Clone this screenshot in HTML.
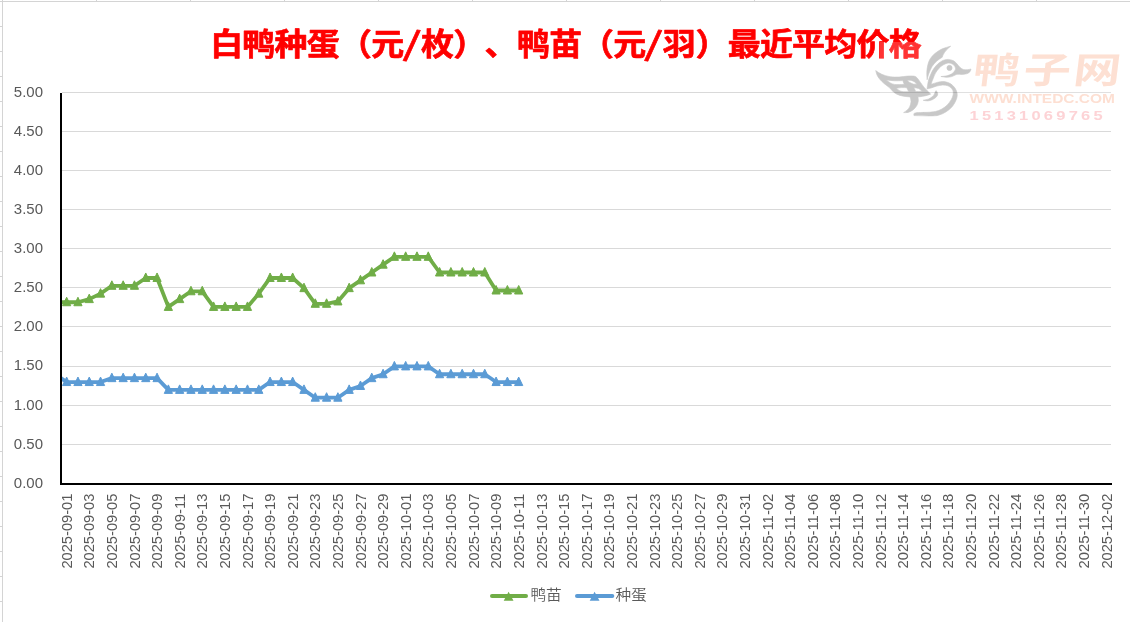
<!DOCTYPE html>
<html lang="zh-CN">
<head>
<meta charset="utf-8">
<title>白鸭种蛋（元/枚）、鸭苗（元/羽）最近平均价格</title>
<style>
html,body{margin:0;padding:0;background:#fff;}
body{width:1130px;height:622px;overflow:hidden;font-family:"Liberation Sans","Noto Sans CJK SC",sans-serif;}
svg{display:block;}
.ax{font-family:"Liberation Sans","Noto Sans CJK SC",sans-serif;font-size:14px;fill:#595959;}
.xl{font-family:"Liberation Sans","Noto Sans CJK SC",sans-serif;font-size:14.8px;fill:#595959;}
.lg{font-family:"Liberation Sans","Noto Sans CJK SC",sans-serif;font-size:14.6px;font-weight:350;fill:#595959;}
.ttl{font-family:"Liberation Sans","Noto Sans CJK SC",sans-serif;font-size:32px;font-weight:bold;fill:#ff0000;stroke:#ff0000;stroke-width:0.7px;stroke-linejoin:round;}
.sl{font-family:"Noto Sans CJK SC","Liberation Sans",sans-serif;font-size:34px;}
</style>
</head>
<body>
<svg width="1130" height="622" viewBox="0 0 1130 622">
<rect x="0" y="0" width="1130" height="622" fill="#ffffff"/>
<g fill="#d4d4d4" shape-rendering="crispEdges">
<rect x="0" y="1" width="1130" height="1"/>
<rect x="2" y="0" width="1" height="622"/>
<rect x="96" y="0" width="1" height="1"/>
<rect x="190" y="0" width="1" height="1"/>
<rect x="284" y="0" width="1" height="1"/>
<rect x="378" y="0" width="1" height="1"/>
<rect x="472" y="0" width="1" height="1"/>
<rect x="566" y="0" width="1" height="1"/>
<rect x="660" y="0" width="1" height="1"/>
<rect x="754" y="0" width="1" height="1"/>
<rect x="848" y="0" width="1" height="1"/>
<rect x="942" y="0" width="1" height="1"/>
<rect x="1036" y="0" width="1" height="1"/>
<rect x="0" y="26" width="2" height="1"/>
<rect x="0" y="51" width="2" height="1"/>
<rect x="0" y="76" width="2" height="1"/>
<rect x="0" y="101" width="2" height="1"/>
<rect x="0" y="126" width="2" height="1"/>
<rect x="0" y="151" width="2" height="1"/>
<rect x="0" y="176" width="2" height="1"/>
<rect x="0" y="201" width="2" height="1"/>
<rect x="0" y="226" width="2" height="1"/>
<rect x="0" y="251" width="2" height="1"/>
<rect x="0" y="276" width="2" height="1"/>
<rect x="0" y="301" width="2" height="1"/>
<rect x="0" y="326" width="2" height="1"/>
<rect x="0" y="351" width="2" height="1"/>
<rect x="0" y="376" width="2" height="1"/>
<rect x="0" y="401" width="2" height="1"/>
<rect x="0" y="426" width="2" height="1"/>
<rect x="0" y="451" width="2" height="1"/>
<rect x="0" y="476" width="2" height="1"/>
<rect x="0" y="501" width="2" height="1"/>
<rect x="0" y="526" width="2" height="1"/>
<rect x="0" y="551" width="2" height="1"/>
<rect x="0" y="576" width="2" height="1"/>
<rect x="0" y="601" width="2" height="1"/>
</g>
<g fill="#d9d9d9" shape-rendering="crispEdges">
<rect x="62" y="92" width="1049" height="1"/>
<rect x="62" y="131" width="1049" height="1"/>
<rect x="62" y="170" width="1049" height="1"/>
<rect x="62" y="209" width="1049" height="1"/>
<rect x="62" y="248" width="1049" height="1"/>
<rect x="62" y="287" width="1049" height="1"/>
<rect x="62" y="326" width="1049" height="1"/>
<rect x="62" y="366" width="1049" height="1"/>
<rect x="62" y="405" width="1049" height="1"/>
<rect x="62" y="444" width="1049" height="1"/>
</g>
<g fill="#000000" shape-rendering="crispEdges">
<rect x="60" y="93" width="2" height="392"/>
<rect x="60" y="483" width="1052" height="2"/>
</g>
<g class="ax" text-anchor="end">
<text x="43" y="96.9" textLength="29.2" lengthAdjust="spacingAndGlyphs">5.00</text>
<text x="43" y="135.9" textLength="29.2" lengthAdjust="spacingAndGlyphs">4.50</text>
<text x="43" y="174.9" textLength="29.2" lengthAdjust="spacingAndGlyphs">4.00</text>
<text x="43" y="213.9" textLength="29.2" lengthAdjust="spacingAndGlyphs">3.50</text>
<text x="43" y="252.9" textLength="29.2" lengthAdjust="spacingAndGlyphs">3.00</text>
<text x="43" y="291.9" textLength="29.2" lengthAdjust="spacingAndGlyphs">2.50</text>
<text x="43" y="330.9" textLength="29.2" lengthAdjust="spacingAndGlyphs">2.00</text>
<text x="43" y="369.9" textLength="29.2" lengthAdjust="spacingAndGlyphs">1.50</text>
<text x="43" y="409.9" textLength="29.2" lengthAdjust="spacingAndGlyphs">1.00</text>
<text x="43" y="448.9" textLength="29.2" lengthAdjust="spacingAndGlyphs">0.50</text>
<text x="43" y="487.9" textLength="29.2" lengthAdjust="spacingAndGlyphs">0.00</text>
</g>
<g class="xl" text-anchor="end">
<text transform="translate(71.85,493.6) rotate(-90)" x="0" y="0" textLength="75" lengthAdjust="spacingAndGlyphs">2025-09-01</text>
<text transform="translate(94.45,493.6) rotate(-90)" x="0" y="0" textLength="75" lengthAdjust="spacingAndGlyphs">2025-09-03</text>
<text transform="translate(117.05,493.6) rotate(-90)" x="0" y="0" textLength="75" lengthAdjust="spacingAndGlyphs">2025-09-05</text>
<text transform="translate(139.66,493.6) rotate(-90)" x="0" y="0" textLength="75" lengthAdjust="spacingAndGlyphs">2025-09-07</text>
<text transform="translate(162.26,493.6) rotate(-90)" x="0" y="0" textLength="75" lengthAdjust="spacingAndGlyphs">2025-09-09</text>
<text transform="translate(184.86,493.6) rotate(-90)" x="0" y="0" textLength="75" lengthAdjust="spacingAndGlyphs">2025-09-11</text>
<text transform="translate(207.46,493.6) rotate(-90)" x="0" y="0" textLength="75" lengthAdjust="spacingAndGlyphs">2025-09-13</text>
<text transform="translate(230.07,493.6) rotate(-90)" x="0" y="0" textLength="75" lengthAdjust="spacingAndGlyphs">2025-09-15</text>
<text transform="translate(252.67,493.6) rotate(-90)" x="0" y="0" textLength="75" lengthAdjust="spacingAndGlyphs">2025-09-17</text>
<text transform="translate(275.27,493.6) rotate(-90)" x="0" y="0" textLength="75" lengthAdjust="spacingAndGlyphs">2025-09-19</text>
<text transform="translate(297.87,493.6) rotate(-90)" x="0" y="0" textLength="75" lengthAdjust="spacingAndGlyphs">2025-09-21</text>
<text transform="translate(320.47,493.6) rotate(-90)" x="0" y="0" textLength="75" lengthAdjust="spacingAndGlyphs">2025-09-23</text>
<text transform="translate(343.08,493.6) rotate(-90)" x="0" y="0" textLength="75" lengthAdjust="spacingAndGlyphs">2025-09-25</text>
<text transform="translate(365.68,493.6) rotate(-90)" x="0" y="0" textLength="75" lengthAdjust="spacingAndGlyphs">2025-09-27</text>
<text transform="translate(388.28,493.6) rotate(-90)" x="0" y="0" textLength="75" lengthAdjust="spacingAndGlyphs">2025-09-29</text>
<text transform="translate(410.88,493.6) rotate(-90)" x="0" y="0" textLength="75" lengthAdjust="spacingAndGlyphs">2025-10-01</text>
<text transform="translate(433.48,493.6) rotate(-90)" x="0" y="0" textLength="75" lengthAdjust="spacingAndGlyphs">2025-10-03</text>
<text transform="translate(456.09,493.6) rotate(-90)" x="0" y="0" textLength="75" lengthAdjust="spacingAndGlyphs">2025-10-05</text>
<text transform="translate(478.69,493.6) rotate(-90)" x="0" y="0" textLength="75" lengthAdjust="spacingAndGlyphs">2025-10-07</text>
<text transform="translate(501.29,493.6) rotate(-90)" x="0" y="0" textLength="75" lengthAdjust="spacingAndGlyphs">2025-10-09</text>
<text transform="translate(523.89,493.6) rotate(-90)" x="0" y="0" textLength="75" lengthAdjust="spacingAndGlyphs">2025-10-11</text>
<text transform="translate(546.50,493.6) rotate(-90)" x="0" y="0" textLength="75" lengthAdjust="spacingAndGlyphs">2025-10-13</text>
<text transform="translate(569.10,493.6) rotate(-90)" x="0" y="0" textLength="75" lengthAdjust="spacingAndGlyphs">2025-10-15</text>
<text transform="translate(591.70,493.6) rotate(-90)" x="0" y="0" textLength="75" lengthAdjust="spacingAndGlyphs">2025-10-17</text>
<text transform="translate(614.30,493.6) rotate(-90)" x="0" y="0" textLength="75" lengthAdjust="spacingAndGlyphs">2025-10-19</text>
<text transform="translate(636.90,493.6) rotate(-90)" x="0" y="0" textLength="75" lengthAdjust="spacingAndGlyphs">2025-10-21</text>
<text transform="translate(659.51,493.6) rotate(-90)" x="0" y="0" textLength="75" lengthAdjust="spacingAndGlyphs">2025-10-23</text>
<text transform="translate(682.11,493.6) rotate(-90)" x="0" y="0" textLength="75" lengthAdjust="spacingAndGlyphs">2025-10-25</text>
<text transform="translate(704.71,493.6) rotate(-90)" x="0" y="0" textLength="75" lengthAdjust="spacingAndGlyphs">2025-10-27</text>
<text transform="translate(727.31,493.6) rotate(-90)" x="0" y="0" textLength="75" lengthAdjust="spacingAndGlyphs">2025-10-29</text>
<text transform="translate(749.92,493.6) rotate(-90)" x="0" y="0" textLength="75" lengthAdjust="spacingAndGlyphs">2025-10-31</text>
<text transform="translate(772.52,493.6) rotate(-90)" x="0" y="0" textLength="75" lengthAdjust="spacingAndGlyphs">2025-11-02</text>
<text transform="translate(795.12,493.6) rotate(-90)" x="0" y="0" textLength="75" lengthAdjust="spacingAndGlyphs">2025-11-04</text>
<text transform="translate(817.72,493.6) rotate(-90)" x="0" y="0" textLength="75" lengthAdjust="spacingAndGlyphs">2025-11-06</text>
<text transform="translate(840.32,493.6) rotate(-90)" x="0" y="0" textLength="75" lengthAdjust="spacingAndGlyphs">2025-11-08</text>
<text transform="translate(862.93,493.6) rotate(-90)" x="0" y="0" textLength="75" lengthAdjust="spacingAndGlyphs">2025-11-10</text>
<text transform="translate(885.53,493.6) rotate(-90)" x="0" y="0" textLength="75" lengthAdjust="spacingAndGlyphs">2025-11-12</text>
<text transform="translate(908.13,493.6) rotate(-90)" x="0" y="0" textLength="75" lengthAdjust="spacingAndGlyphs">2025-11-14</text>
<text transform="translate(930.73,493.6) rotate(-90)" x="0" y="0" textLength="75" lengthAdjust="spacingAndGlyphs">2025-11-16</text>
<text transform="translate(953.33,493.6) rotate(-90)" x="0" y="0" textLength="75" lengthAdjust="spacingAndGlyphs">2025-11-18</text>
<text transform="translate(975.94,493.6) rotate(-90)" x="0" y="0" textLength="75" lengthAdjust="spacingAndGlyphs">2025-11-20</text>
<text transform="translate(998.54,493.6) rotate(-90)" x="0" y="0" textLength="75" lengthAdjust="spacingAndGlyphs">2025-11-22</text>
<text transform="translate(1021.14,493.6) rotate(-90)" x="0" y="0" textLength="75" lengthAdjust="spacingAndGlyphs">2025-11-24</text>
<text transform="translate(1043.74,493.6) rotate(-90)" x="0" y="0" textLength="75" lengthAdjust="spacingAndGlyphs">2025-11-26</text>
<text transform="translate(1066.35,493.6) rotate(-90)" x="0" y="0" textLength="75" lengthAdjust="spacingAndGlyphs">2025-11-28</text>
<text transform="translate(1088.95,493.6) rotate(-90)" x="0" y="0" textLength="75" lengthAdjust="spacingAndGlyphs">2025-11-30</text>
<text transform="translate(1111.55,493.6) rotate(-90)" x="0" y="0" textLength="75" lengthAdjust="spacingAndGlyphs">2025-12-02</text>
</g>
<clipPath id="pc"><rect x="62" y="80" width="1060" height="410"/></clipPath>
<polyline clip-path="url(#pc)" points="55.35,302.24 66.65,302.24 77.95,302.24 89.25,299.11 100.55,293.63 111.85,285.80 123.16,285.80 134.46,285.80 145.76,277.98 157.06,277.98 168.36,306.93 179.66,299.11 190.96,291.28 202.26,291.28 213.56,306.93 224.87,306.93 236.17,306.93 247.47,306.93 258.77,293.63 270.07,277.98 281.37,277.98 292.67,277.98 303.97,288.15 315.27,303.80 326.58,303.80 337.88,301.45 349.18,288.15 360.48,280.32 371.78,272.50 383.08,264.67 394.38,256.85 405.68,256.85 416.98,256.85 428.28,256.85 439.59,272.50 450.89,272.50 462.19,272.50 473.49,272.50 484.79,272.50 496.09,290.50 507.39,290.50 518.69,290.50" fill="none" stroke="#70ad47" stroke-width="3.8" stroke-linejoin="round" stroke-linecap="round"/>
<g fill="#70ad47" stroke="#70ad47" stroke-width="1">
<path d="M66.65 297.24l4.1 8.5h-8.2z"/>
<path d="M77.95 297.24l4.1 8.5h-8.2z"/>
<path d="M89.25 294.11l4.1 8.5h-8.2z"/>
<path d="M100.55 288.63l4.1 8.5h-8.2z"/>
<path d="M111.85 280.80l4.1 8.5h-8.2z"/>
<path d="M123.16 280.80l4.1 8.5h-8.2z"/>
<path d="M134.46 280.80l4.1 8.5h-8.2z"/>
<path d="M145.76 272.98l4.1 8.5h-8.2z"/>
<path d="M157.06 272.98l4.1 8.5h-8.2z"/>
<path d="M168.36 301.93l4.1 8.5h-8.2z"/>
<path d="M179.66 294.11l4.1 8.5h-8.2z"/>
<path d="M190.96 286.28l4.1 8.5h-8.2z"/>
<path d="M202.26 286.28l4.1 8.5h-8.2z"/>
<path d="M213.56 301.93l4.1 8.5h-8.2z"/>
<path d="M224.87 301.93l4.1 8.5h-8.2z"/>
<path d="M236.17 301.93l4.1 8.5h-8.2z"/>
<path d="M247.47 301.93l4.1 8.5h-8.2z"/>
<path d="M258.77 288.63l4.1 8.5h-8.2z"/>
<path d="M270.07 272.98l4.1 8.5h-8.2z"/>
<path d="M281.37 272.98l4.1 8.5h-8.2z"/>
<path d="M292.67 272.98l4.1 8.5h-8.2z"/>
<path d="M303.97 283.15l4.1 8.5h-8.2z"/>
<path d="M315.27 298.80l4.1 8.5h-8.2z"/>
<path d="M326.58 298.80l4.1 8.5h-8.2z"/>
<path d="M337.88 296.45l4.1 8.5h-8.2z"/>
<path d="M349.18 283.15l4.1 8.5h-8.2z"/>
<path d="M360.48 275.32l4.1 8.5h-8.2z"/>
<path d="M371.78 267.50l4.1 8.5h-8.2z"/>
<path d="M383.08 259.67l4.1 8.5h-8.2z"/>
<path d="M394.38 251.85l4.1 8.5h-8.2z"/>
<path d="M405.68 251.85l4.1 8.5h-8.2z"/>
<path d="M416.98 251.85l4.1 8.5h-8.2z"/>
<path d="M428.28 251.85l4.1 8.5h-8.2z"/>
<path d="M439.59 267.50l4.1 8.5h-8.2z"/>
<path d="M450.89 267.50l4.1 8.5h-8.2z"/>
<path d="M462.19 267.50l4.1 8.5h-8.2z"/>
<path d="M473.49 267.50l4.1 8.5h-8.2z"/>
<path d="M484.79 267.50l4.1 8.5h-8.2z"/>
<path d="M496.09 285.50l4.1 8.5h-8.2z"/>
<path d="M507.39 285.50l4.1 8.5h-8.2z"/>
<path d="M518.69 285.50l4.1 8.5h-8.2z"/>
</g>
<polyline clip-path="url(#pc)" points="55.35,374.24 66.65,382.06 77.95,382.06 89.25,382.06 100.55,382.06 111.85,378.15 123.16,378.15 134.46,378.15 145.76,378.15 157.06,378.15 168.36,389.89 179.66,389.89 190.96,389.89 202.26,389.89 213.56,389.89 224.87,389.89 236.17,389.89 247.47,389.89 258.77,389.89 270.07,382.06 281.37,382.06 292.67,382.06 303.97,389.89 315.27,397.71 326.58,397.71 337.88,397.71 349.18,389.89 360.48,385.98 371.78,378.15 383.08,374.24 394.38,366.41 405.68,366.41 416.98,366.41 428.28,366.41 439.59,374.24 450.89,374.24 462.19,374.24 473.49,374.24 484.79,374.24 496.09,382.06 507.39,382.06 518.69,382.06" fill="none" stroke="#5b9bd5" stroke-width="3.8" stroke-linejoin="round" stroke-linecap="round"/>
<g fill="#5b9bd5" stroke="#5b9bd5" stroke-width="1">
<path d="M66.65 377.06l4.1 8.5h-8.2z"/>
<path d="M77.95 377.06l4.1 8.5h-8.2z"/>
<path d="M89.25 377.06l4.1 8.5h-8.2z"/>
<path d="M100.55 377.06l4.1 8.5h-8.2z"/>
<path d="M111.85 373.15l4.1 8.5h-8.2z"/>
<path d="M123.16 373.15l4.1 8.5h-8.2z"/>
<path d="M134.46 373.15l4.1 8.5h-8.2z"/>
<path d="M145.76 373.15l4.1 8.5h-8.2z"/>
<path d="M157.06 373.15l4.1 8.5h-8.2z"/>
<path d="M168.36 384.89l4.1 8.5h-8.2z"/>
<path d="M179.66 384.89l4.1 8.5h-8.2z"/>
<path d="M190.96 384.89l4.1 8.5h-8.2z"/>
<path d="M202.26 384.89l4.1 8.5h-8.2z"/>
<path d="M213.56 384.89l4.1 8.5h-8.2z"/>
<path d="M224.87 384.89l4.1 8.5h-8.2z"/>
<path d="M236.17 384.89l4.1 8.5h-8.2z"/>
<path d="M247.47 384.89l4.1 8.5h-8.2z"/>
<path d="M258.77 384.89l4.1 8.5h-8.2z"/>
<path d="M270.07 377.06l4.1 8.5h-8.2z"/>
<path d="M281.37 377.06l4.1 8.5h-8.2z"/>
<path d="M292.67 377.06l4.1 8.5h-8.2z"/>
<path d="M303.97 384.89l4.1 8.5h-8.2z"/>
<path d="M315.27 392.71l4.1 8.5h-8.2z"/>
<path d="M326.58 392.71l4.1 8.5h-8.2z"/>
<path d="M337.88 392.71l4.1 8.5h-8.2z"/>
<path d="M349.18 384.89l4.1 8.5h-8.2z"/>
<path d="M360.48 380.98l4.1 8.5h-8.2z"/>
<path d="M371.78 373.15l4.1 8.5h-8.2z"/>
<path d="M383.08 369.24l4.1 8.5h-8.2z"/>
<path d="M394.38 361.41l4.1 8.5h-8.2z"/>
<path d="M405.68 361.41l4.1 8.5h-8.2z"/>
<path d="M416.98 361.41l4.1 8.5h-8.2z"/>
<path d="M428.28 361.41l4.1 8.5h-8.2z"/>
<path d="M439.59 369.24l4.1 8.5h-8.2z"/>
<path d="M450.89 369.24l4.1 8.5h-8.2z"/>
<path d="M462.19 369.24l4.1 8.5h-8.2z"/>
<path d="M473.49 369.24l4.1 8.5h-8.2z"/>
<path d="M484.79 369.24l4.1 8.5h-8.2z"/>
<path d="M496.09 377.06l4.1 8.5h-8.2z"/>
<path d="M507.39 377.06l4.1 8.5h-8.2z"/>
<path d="M518.69 377.06l4.1 8.5h-8.2z"/>
</g>
<text class="ttl" transform="translate(0,54.7) scale(1.030,0.968)" x="204.1 235.3 266.6 297.9 329.1 360.4 391.7 408.7 440.0 470.3 501.9 533.2 564.1 595.4 626.3 643.4 675.2 706.5 737.8 769.0 800.3 831.6 862.8" y="0">白鸭种蛋（元<tspan class="sl" rotate="9">/</tspan>枚）、鸭苗（元<tspan class="sl" rotate="9">/</tspan>羽）最近平均价格</text>
<g id="wm">
<rect x="880" y="42" width="245" height="84" fill="#ffffff" fill-opacity="0.2"/>
<g fill="#000000" stroke="#000000" stroke-width="0.6" stroke-linejoin="round" opacity="0.21">
<path fill-rule="evenodd" d="M875.7 70.6C877.5 71.7 879.4 73.3 881.8 74.3C884.2 75.3 887.1 76.2 890.0 76.7C892.9 77.2 896.2 77.1 899.1 77.0C902.0 76.9 904.8 76.2 907.3 76.1C909.8 75.9 912.2 75.9 913.8 76.1C915.4 76.3 915.7 76.7 916.7 77.5C917.7 78.3 918.3 79.5 919.6 81.2C920.9 82.9 922.9 85.9 924.5 87.8C926.1 89.7 928.4 91.6 929.4 92.7C930.4 93.8 930.3 93.8 930.7 94.2C928.8 94.7 926.9 95.5 924.5 96.0C922.1 96.5 919.2 96.9 916.3 97.0C913.4 97.1 910.0 97.0 907.3 96.7C904.6 96.4 902.1 96.1 899.9 95.4C897.7 94.7 895.8 93.8 894.1 92.5C892.4 91.2 891.2 89.3 889.6 87.8C888.0 86.3 886.0 85.2 884.3 83.7C882.6 82.2 880.6 80.3 879.4 78.8C878.2 77.3 877.5 76.1 876.9 74.7C876.3 73.3 876.1 71.8 875.7 70.6Z M886.4 79.9C888.8 80.2 891.8 80.7 894.5 80.8C897.2 80.9 900.4 80.7 902.9 80.6C903.0 81.0 903.1 81.4 903.3 82.0C903.5 82.7 904.0 83.6 904.3 84.3C902.8 84.4 900.9 84.6 899.3 84.6C897.7 84.6 896.0 84.7 894.5 84.4C893.0 84.1 891.8 83.7 890.4 82.9C889.0 82.2 887.6 80.8 886.4 79.9Z M907.0 80.3C908.3 80.3 910.0 80.1 911.3 80.4C912.6 80.7 913.8 81.3 914.7 82.0C915.6 82.7 916.2 83.6 916.9 84.3C915.8 84.2 914.3 84.3 913.3 84.1C912.3 83.9 911.6 83.4 910.9 83.0C910.2 82.6 909.5 82.4 908.9 81.9C908.2 81.5 907.6 80.8 907.0 80.3Z M896.5 88.2C898.1 88.0 900.0 87.7 901.7 87.6C903.4 87.5 905.2 87.7 906.7 87.7C907.3 88.9 908.1 90.5 908.7 91.7C907.0 91.7 904.7 91.9 903.1 91.7C901.5 91.5 900.2 91.0 899.1 90.4C898.0 89.8 897.3 88.9 896.5 88.2Z M913.8 87.7C915.2 87.9 917.2 87.9 918.6 88.5C920.0 89.1 920.9 90.5 921.9 91.3C920.0 91.4 917.6 91.5 915.7 91.6C915.4 90.9 915.0 89.9 914.7 89.3C914.4 88.7 914.0 88.2 913.8 87.7Z"/>
<path d="M917.9 96.4C918.0 97.8 918.5 99.3 918.3 100.9C918.1 102.5 917.6 104.3 916.7 105.8C915.8 107.3 914.4 108.8 913.0 109.9C911.6 111.0 909.7 112.0 908.1 112.4C906.5 112.9 905.0 112.5 903.6 112.6C904.7 111.8 906.3 110.9 907.3 109.9C908.3 108.9 909.1 108.1 909.7 106.7C910.3 105.3 910.9 103.4 911.0 101.7C911.1 100.0 910.4 98.0 910.1 96.4C912.4 96.4 915.6 96.4 917.9 96.4Z"/>
<path d="M927.0 88.9C927.4 86.7 927.7 83.8 928.2 81.6C928.7 79.4 929.2 77.9 930.1 75.8C931.0 73.7 932.1 71.0 933.5 69.0C934.9 67.0 936.5 65.1 938.2 63.6C939.9 62.1 941.9 60.9 943.6 60.2C945.3 59.5 946.8 59.3 948.4 59.4C950.0 59.5 951.8 60.0 953.1 60.6C954.5 61.2 955.4 62.2 956.5 63.3C957.6 64.4 958.8 66.3 959.9 67.3C961.0 68.3 962.0 69.0 963.2 69.4C964.4 69.8 966.0 69.8 967.3 69.7C968.6 69.6 969.9 69.2 971.0 69.0C970.7 69.8 970.7 70.9 970.0 71.7C969.3 72.5 968.0 73.3 966.6 73.8C965.2 74.2 963.4 74.3 961.9 74.4C960.4 74.5 958.9 74.2 957.8 74.3C956.7 74.4 956.1 74.7 955.1 75.1C954.1 75.5 953.1 76.2 951.8 76.6C950.4 77.0 948.8 77.3 947.0 77.3C945.2 77.3 942.7 76.7 940.9 76.5C942.7 76.3 945.2 76.2 947.0 75.8C948.8 75.3 950.5 74.6 951.8 73.8C953.0 73.0 953.9 72.0 954.5 71.1C955.1 70.2 955.6 69.4 955.5 68.4C955.4 67.4 954.6 65.8 953.8 65.0C952.9 64.2 951.5 63.6 950.4 63.3C949.3 63.0 948.2 63.0 947.0 63.3C945.8 63.6 944.4 64.2 943.0 65.0C941.6 65.8 940.1 67.1 938.9 68.4C937.6 69.8 936.5 71.4 935.5 73.1C934.5 74.8 933.8 77.0 933.2 78.5C932.6 80.0 932.1 81.0 931.8 82.0C931.5 83.0 931.4 83.6 931.3 84.3C933.0 83.7 935.0 82.9 937.1 82.4C939.2 82.0 941.8 81.4 944.0 81.6C946.2 81.8 948.4 82.5 950.2 83.5C952.0 84.5 953.6 86.2 954.8 87.8C955.9 89.4 956.8 91.3 957.1 93.2C957.4 95.1 957.2 97.1 956.4 99.3C955.6 101.5 954.2 104.2 952.5 106.3C950.8 108.4 948.6 110.2 946.3 111.7C944.0 113.2 941.2 114.5 938.6 115.2C936.0 115.9 935.0 115.8 930.9 115.9C926.8 116.0 919.0 115.7 913.9 115.6C914.4 114.8 912.6 113.5 915.4 112.9C918.2 112.3 927.0 112.5 930.9 112.1C934.8 111.7 936.3 111.3 938.6 110.5C940.9 109.7 943.0 108.4 944.8 107.1C946.6 105.8 948.1 104.1 949.4 102.4C950.7 100.7 951.9 98.7 952.5 97.0C953.1 95.3 953.4 93.8 953.3 92.4C953.2 91.0 952.6 89.6 951.7 88.5C950.8 87.4 949.4 86.4 947.9 85.8C946.4 85.2 944.4 85.0 942.5 85.1C940.6 85.2 938.2 85.7 936.3 86.2C934.4 86.7 932.4 87.6 930.9 88.1C929.4 88.5 928.2 88.7 927.0 88.9Z"/>
<path d="M936.3 90.7C936.8 91.7 937.8 92.9 937.8 93.9C937.8 95.0 937.2 96.0 936.3 97.0C935.4 98.0 933.8 99.0 932.4 99.7C931.0 100.4 929.3 100.8 927.8 100.9C926.3 101.0 924.6 100.5 923.2 100.3C924.8 99.9 927.1 99.6 928.6 99.0C930.1 98.4 931.4 97.4 932.4 96.6C933.4 95.8 933.9 94.8 934.4 93.9C934.9 93.0 935.2 91.7 935.5 91.2C935.8 90.7 936.1 90.9 936.3 90.7Z"/>
<path d="M950.7 46.2C948.2 47.0 944.9 47.6 942.3 48.8C939.7 50.0 936.9 51.8 934.9 53.5C932.9 55.2 931.3 57.0 930.1 58.9C928.9 60.8 928.3 62.8 927.8 65.0C927.2 67.2 926.9 69.9 926.8 72.4C926.7 74.9 927.0 77.6 927.1 79.8C927.6 78.0 927.9 76.0 928.8 73.8C929.6 71.5 930.9 68.5 932.2 66.3C933.6 64.1 935.2 62.4 936.9 60.9C938.6 59.4 940.7 58.3 942.3 57.2C942.6 56.4 942.6 55.7 943.3 54.5C944.0 53.3 945.2 51.5 946.4 50.1C947.6 48.7 949.4 47.4 950.7 46.2Z"/>
<circle cx="949.5" cy="67.9" r="2.6"/>
</g>
<text transform="translate(971.8,83.2) skewX(-7) scale(1.31,1)" x="0 38.6 76.6" y="0" style="font-family:'Liberation Sans','Noto Sans CJK SC',sans-serif;font-size:36px;font-weight:bold;fill:#fde0d3;">鸭子网</text>
<text x="969.6" y="103" textLength="145.4" lengthAdjust="spacingAndGlyphs" style="font-family:'Liberation Sans',sans-serif;font-size:12.6px;font-weight:bold;fill:#fddfd2;">WWW.INTEDC.COM</text>
<text transform="translate(969.6,119.8) scale(1.25,1)" x="0.00 9.90 19.81 29.71 39.62 49.52 59.42 69.33 79.23 89.14 99.04" y="0" style="font-family:'Liberation Sans',sans-serif;font-size:13.2px;font-weight:bold;fill:#fdd3d6;">15131069765</text>
</g>
<g>
<line x1="492" y1="596" x2="526" y2="596" stroke="#70ad47" stroke-width="4" stroke-linecap="round"/>
<path d="M508.6 591.8l4.9 9h-9.8z" fill="#70ad47"/>
<text class="lg" x="530.4" y="600.3" textLength="31.4" lengthAdjust="spacingAndGlyphs">鸭苗</text>
<line x1="577" y1="596" x2="612.3" y2="596" stroke="#5b9bd5" stroke-width="4" stroke-linecap="round"/>
<path d="M594.6 591.8l4.9 9h-9.8z" fill="#5b9bd5"/>
<text class="lg" x="615.4" y="600.3" textLength="31.4" lengthAdjust="spacingAndGlyphs">种蛋</text>
</g>
</svg>
</body>
</html>
